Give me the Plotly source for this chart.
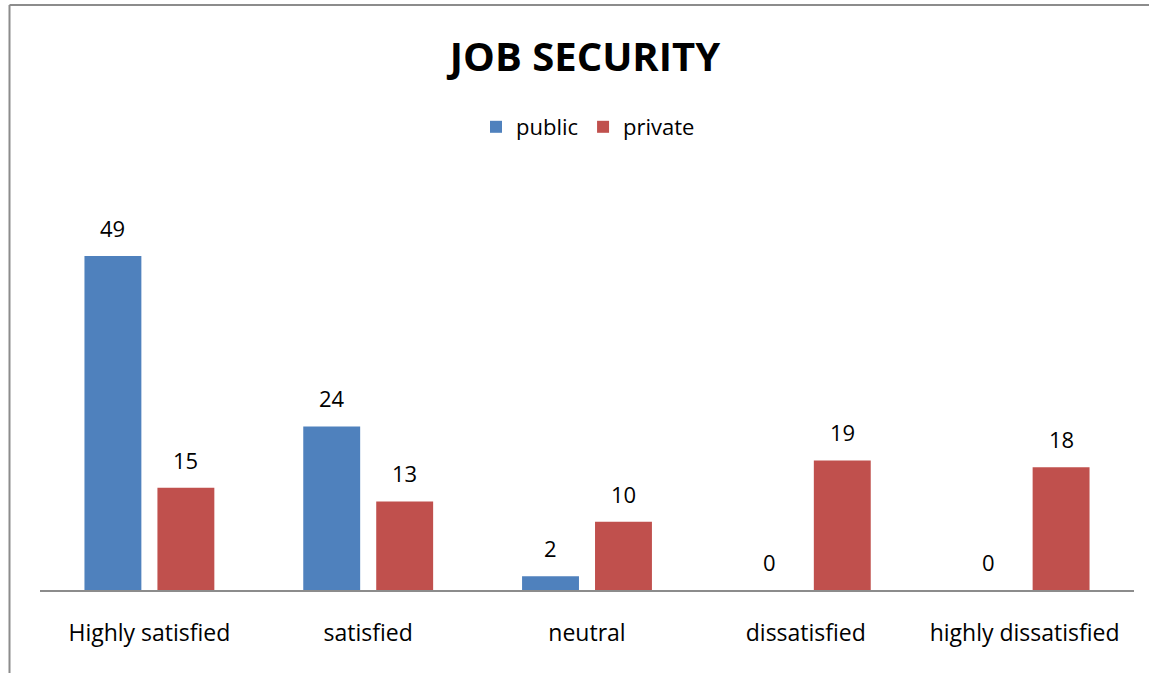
import plotly.graph_objects as go

# Survey results: job security satisfaction by sector
categories = ["Highly satisfied", "satisfied", "neutral", "dissatisfied", "highly dissatisfied"]
public_values = [49, 24, 2, 0, 0]
private_values = [15, 13, 10, 19, 18]

BLUE = "#4F81BD"
RED = "#C0504D"
FONT = "Open Sans"

fig = go.Figure()
fig.add_trace(go.Bar(name="public", x=categories, y=public_values,
                     marker=dict(color=BLUE, line=dict(width=0))))
fig.add_trace(go.Bar(name="private", x=categories, y=private_values,
                     marker=dict(color=RED, line=dict(width=0))))

# Value labels above each bar (offset left/right to sit over the grouped bars)
annotations = []
for cat, pv, rv in zip(categories, public_values, private_values):
    for val, dx in ((pv, -36.5), (rv, 36.5)):
        annotations.append(dict(x=cat, y=val, xref="x", yref="y", text=str(val),
                                showarrow=False, xshift=dx, yshift=28,
                                yanchor="middle",
                                font=dict(family=FONT, size=22, color="#000000")))

# Outer frame lines (top and left edges of the chart box)
L, R, T, B = 40, 1134, 181, 590
W, H = R - L, B - T
def px_x(p):
    return (p - L) / W
def px_y(p):
    return (B - p) / H

shapes = [
    dict(type="line", xref="paper", yref="paper", x0=px_x(9.5), x1=px_x(1149),
         y0=px_y(5), y1=px_y(5), line=dict(color="#8C8C8C", width=2)),
    dict(type="line", xref="paper", yref="paper", x0=px_x(9.5), x1=px_x(9.5),
         y0=px_y(5), y1=px_y(673), line=dict(color="#8C8C8C", width=2)),
]

fig.update_layout(
    width=1149, height=673,
    margin=dict(l=L, r=1149 - R, t=T, b=673 - B, pad=0),
    paper_bgcolor="white", plot_bgcolor="white",
    barmode="group", bargap=0.333, bargroupgap=0.22,
    title=dict(text="<b>JOB SECURITY</b>", x=585 / 1149, xanchor="center",
               y=1 - 57 / 673, yanchor="middle",
               font=dict(family=FONT, size=40, color="#000000")),
    legend=dict(orientation="h", x=px_x(588), xanchor="center",
                y=px_y(127), yanchor="middle",
                font=dict(family=FONT, size=22, color="#000000"),
                itemwidth=30, traceorder="normal"),
    xaxis=dict(showline=True, linecolor="#8C8C8C", linewidth=2,
               ticks="", showgrid=False, ticklabelstandoff=21,
               tickfont=dict(family=FONT, size=23, color="#000000")),
    yaxis=dict(range=[0, 60], visible=False, showgrid=False, zeroline=False),
    annotations=annotations,
    shapes=shapes,
    showlegend=True,
)

fig.write_html("out.html")
